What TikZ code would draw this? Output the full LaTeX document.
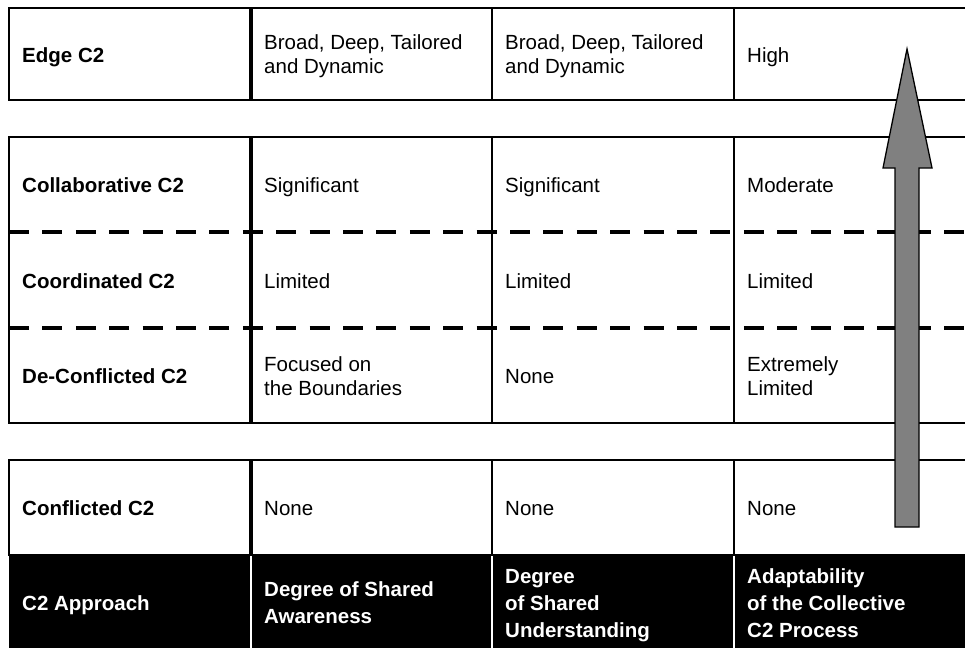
\documentclass[tikz,border=0pt]{standalone}
\usepackage{fontspec}
\setmainfont{Liberation Sans}
\tikzset{
  cell/.style={anchor=base west, inner sep=0pt, align=left, font=\fontsize{20.5}{24}\selectfont},
  rowname/.style={cell, font=\bfseries\fontsize{20.5}{24}\selectfont},
  headcell/.style={cell, text=white, font=\bfseries\fontsize{20.5}{27}\selectfont},
  rule/.style={line width=1.6pt},
  sepline/.style={line width=4pt},
  dashline/.style={line width=3.5pt, dash pattern=on 20pt off 13.4pt}
}
\begin{document}
\begin{tikzpicture}[x=1pt,y=-1pt]
\useasboundingbox (0,0) rectangle (965,648);
% Cajas de las filas
\foreach \t/\b in {8/100,137/423,460/555} {
    \draw[rule] (965,\t) -- (9,\t) -- (9,\b) -- (965,\b);
    \draw[sepline] (251,\t) -- (251,\b);
    \foreach \x in {492,734}
        \draw[rule] (\x,\t) -- (\x,\b);
}
% Lineas discontinuas
\foreach \y in {232,328}
    \draw[dashline] (9,\y) -- (965,\y);
% Cabecera
\fill[black] (9,555) rectangle (965,648);
\foreach \x in {251,492,734}
    \draw[white, line width=1.6pt] (\x,556) -- (\x,648);
% Nombres de las filas
\node[rowname] (edge) at (22,62) {Edge C2};
\node[rowname] (collab) at (22,192) {Collaborative C2};
\node[rowname] (coord) at (22,288) {Coordinated C2};
\node[rowname] (deconf) at (22,383) {De-Conflicted C2};
\node[rowname] (conf) at (22,515) {Conflicted C2};
\node[headcell] (approach) at (22,610) {C2 Approach};
% Edge (base = ultima linea)
\node[cell] (edgeA) at (264,73.5) {Broad, Deep, Tailored\\and Dynamic};
\node[cell] (edgeU) at (505,73.5) {Broad, Deep, Tailored\\and Dynamic};
\node[cell] (edgeP) at (747,62) {High};
% Collaborative
\node[cell] (collabA) at (264,192) {Significant};
\node[cell] (collabU) at (505,192) {Significant};
\node[cell] (collabP) at (747,192) {Moderate};
% Coordinated
\node[cell] (coordA) at (264,288) {Limited};
\node[cell] (coordU) at (505,288) {Limited};
\node[cell] (coordP) at (747,288) {Limited};
% De-Conflicted
\node[cell] (deconfA) at (264,395) {Focused on\\the Boundaries};
\node[cell] (deconfU) at (505,383) {None};
\node[cell] (deconfP) at (747,395) {Extremely\\Limited};
% Conflicted
\node[cell] (confA) at (264,515) {None};
\node[cell] (confU) at (505,515) {None};
\node[cell] (confP) at (747,515) {None};
% Cabecera de columnas
\node[headcell] (awareness) at (264,623) {Degree of Shared\\Awareness};
\node[headcell] (understanding) at (505,637) {Degree\\of Shared\\Understanding};
\node[headcell] (adaptability) at (747,637) {Adaptability\\of the Collective\\C2 Process};
% Flecha
\filldraw[fill=gray, line width=1.3pt]
    (895,527) -- (895,168) -- (883,168) -- (907,49) -- (932,168) -- (919,168) -- (919,527) -- cycle;
\end{tikzpicture}
\end{document}
